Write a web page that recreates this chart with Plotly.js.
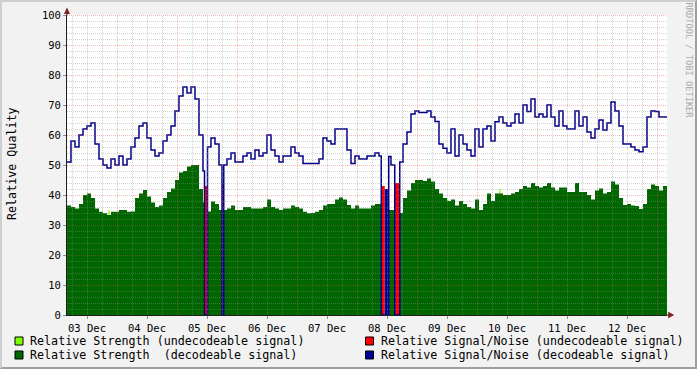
<!DOCTYPE html>
<html><head><meta charset="utf-8">
<script src="https://cdn.plot.ly/plotly-3.0.1.min.js"></script>
<style>
html,body{margin:0;padding:0;background:#f2f2f2;}
#wrap{position:relative;width:697px;height:369px;overflow:hidden;}
#chart{width:697px;height:369px;}
#frame{position:absolute;left:0;top:0;width:697px;height:369px;box-sizing:border-box;border-top:2px solid #cfcfcf;border-left:2px solid #cfcfcf;border-right:2px solid #9e9e9e;border-bottom:2px solid #9e9e9e;pointer-events:none;}
</style></head>
<body><div id="wrap"><div id="chart"></div><div id="frame"></div></div>
<script>
// ---- time base: hours since 03 Dec 04:00 ----
const SPAN_HOURS = 240;
const STEP_HOURS = 1.6;

// Relative Signal/Noise (decodeable), one value per step
const signalNoise = [
 51,58,56,60,62,63,64,57,52,50,
 49,52,50,53,50,52,56,59,63,64,
 59,55,53,54,58,60,63,68,73,76,
 74,76,72,60,48,56,59,57,50,50,
 52,54,51,51,53,54,52,55,53,54,
 60,55,53,51,53,53,56,54,53,50.5,
 50.5,50.5,50.5,52,59,58,57,62,62,62,
 55,50.5,53,52,52,53,53,54,53,53,
 52.8,50,50,51,57,61,67,68,67.5,67.5,
 68,66,64.5,57,55.6,54,62,53,60,57,
 55,53,62,56,62,63,58,64.4,66,64,
 63,64,67,64,70,67.8,72,66,67,66,
 70,66,63,68,63,62,62,68,63,66,
 61,59,62,65,61.7,64,71,68,63,57,
 57,56,55,54.4,56,66,68,67.8,66,66
];

// Relative Strength (decodeable), one value per step
const strength = [
 36.5,36,35.5,37,40,40.5,39,35.5,34.4,33.9,
 33.3,34.4,34.4,35,35,34.4,34.5,39,40.5,41.7,
 39.5,37.5,36,36.5,39,41,42.2,45,47.5,48,
 49.5,50,50,42,37.5,34.5,37.8,37,35,35,
 35.5,36.5,35,35,36,36,35.5,35.5,35.5,36,
 38.5,36,35.5,35,35.5,35.5,36.5,36,35.5,34.4,
 33.9,34,34.4,35,36.5,37,37,38.5,39.2,38.5,
 36.7,35.5,36.5,35.5,35.5,35.5,36.5,37,37,37,
 35,35,34,34,39,41.5,44,45,45,44.7,
 45.5,44.5,42,40.5,39,38,38.5,36.5,38,37,
 36,35.5,38.5,35,37,40.5,38,40.5,40.5,40,
 40,40.5,41,42,43,42.5,44,43,42.5,43,
 44,42.5,41.5,42.5,42.5,41,41,44,41,41,
 40,38.5,41.5,42.2,40.5,41,44.5,43.5,39,36.7,
 37,36.5,36.3,35.3,37,42,43.5,43,41.5,43
];

// periods without a decodeable signal (hours)
const gapStart = [55.0, 62.0, 125.7, 131.1];
const gapEnd   = [56.2, 62.7, 128.7, 133.1];

// Relative Signal/Noise (undecodeable)
const undecSNStart = [55.0, 62.0, 125.7, 131.1];
const undecSNEnd   = [56.2, 62.7, 127.1, 133.1];
const undecSNValue = [43, 44, 43, 44];

// Relative Signal/Noise (decodeable) bar inside the 08 Dec gap
const decSNBarStart = [127.1];
const decSNBarEnd   = [128.5];
const decSNBarValue = [42];

// Relative Strength (undecodeable)
const undecStrengthHour  = [16.8, 152.4, 173.2];
const undecStrengthValue = [35, 38.5, 42];

// x tick labels (centred at noon)
const dayLabels = ['03 Dec','04 Dec','05 Dec','06 Dec','07 Dec','08 Dec','09 Dec','10 Dec','11 Dec','12 Dec'];
const firstNoonHour = 8;

const legendLabels = [
  'Relative Strength (undecodeable signal)',
  'Relative Signal/Noise (undecodeable signal)',
  'Relative Strength \u00a0(decodeable signal)',
  'Relative Signal/Noise (decodeable signal)'
];

// ---------------------------------------------
const T0 = Date.UTC(2012, 11, 3, 4, 0, 0);
const H = 3600000;
const toMs = h => T0 + h * H;

function stepTrace(vals, gS, gE) {
  const xs = [], ys = [];
  const push = (h, v) => { xs.push(toMs(h)); ys.push(v); };
  for (let i = 0; i < vals.length; i++) {
    const a = i * STEP_HOURS, b = a + STEP_HOURS;
    let cur = a;
    for (let k = 0; k < gS.length; k++) {
      if (gE[k] > a && gS[k] < b) {
        if (gS[k] > cur) push(cur, vals[i]);
        push(Math.max(gS[k], a), 0);
        cur = Math.min(gE[k], b);
      }
    }
    if (cur < b - 1e-9) push(cur, vals[i]);
  }
  push(SPAN_HOURS, vals[vals.length - 1]);
  return { xs, ys };
}

const sn = stepTrace(signalNoise, gapStart, gapEnd);
const st = stepTrace(strength, gapStart, gapEnd);

const GREEN = '#006600', LGREEN = '#80ff00', RED = '#ff0000', BLUE = '#000099';

const traces = [
  { type: 'bar', x: undecStrengthHour.map(toMs), y: undecStrengthValue,
    width: undecStrengthHour.map(() => 0.5 * H), marker: { color: LGREEN, line: { width: 0 } },
    hoverinfo: 'skip', name: legendLabels[0] },
  { type: 'bar', x: undecSNStart.map((s, i) => toMs((s + undecSNEnd[i]) / 2)), y: undecSNValue,
    width: undecSNStart.map((s, i) => (undecSNEnd[i] - s) * H), marker: { color: RED, line: { width: 0 } },
    hoverinfo: 'skip', name: legendLabels[1] },
  { type: 'bar', x: decSNBarStart.map((s, i) => toMs((s + decSNBarEnd[i]) / 2)), y: decSNBarValue,
    width: decSNBarStart.map((s, i) => (decSNBarEnd[i] - s) * H), marker: { color: BLUE, line: { width: 0 } },
    hoverinfo: 'skip', name: legendLabels[3] },
  { type: 'scatter', mode: 'lines', x: st.xs, y: st.ys, line: { shape: 'hv', width: 0, color: GREEN },
    fill: 'tozeroy', fillcolor: GREEN, hoverinfo: 'skip', name: legendLabels[2] },
  { type: 'scatter', mode: 'lines', x: sn.xs, y: sn.ys, line: { shape: 'hv', width: 1.5, color: '#000088' },
    hoverinfo: 'skip', name: legendLabels[3] }
];

// grid (drawn above the data like the original), offset half a pixel for crisp lines
const shapes = [];
const MINOR = 'rgba(143,143,143,0.4)', MAJOR = 'rgba(222,79,79,0.4)';
const HALFPX_H = 0.2, HALFPX_V = 1 / 6;
for (let h = 2; h < SPAN_HOURS; h += 6) {
  const major = ((h - 20) % 24 + 24) % 24 === 0;
  shapes.push({ type: 'line', xref: 'x', yref: 'paper', x0: toMs(h + HALFPX_H), x1: toMs(h + HALFPX_H), y0: 0, y1: 1,
    line: { color: major ? MAJOR : MINOR, width: 1, dash: '1px,1px' }, layer: 'above' });
}
for (let v = 2; v <= 100; v += 2) {
  const major = v % 10 === 0;
  const yv = v - HALFPX_V;
  shapes.push({ type: 'line', xref: 'paper', yref: 'y', x0: 0, x1: 1, y0: yv, y1: yv,
    line: { color: major ? MAJOR : MINOR, width: 1, dash: '1px,1px' }, layer: 'above' });
}
// axis arrows
const ARROW = '#801f1f';
shapes.push({ type: 'line', xref: 'paper', yref: 'paper', x0: 0, x1: 0, y0: 1, y1: 1.02, line: { color: '#1f1f1f', width: 1 } });
shapes.push({ type: 'path', xref: 'paper', yref: 'paper', path: 'M -0.005 1.003 L 0.005 1.003 L 0 1.025 Z', fillcolor: ARROW, line: { width: 0 } });
shapes.push({ type: 'line', xref: 'paper', yref: 'paper', x0: 1, x1: 1.008, y0: 0, y1: 0, line: { color: '#1f1f1f', width: 1 } });
shapes.push({ type: 'path', xref: 'paper', yref: 'paper', path: 'M 1.002 -0.011 L 1.002 0.011 L 1.012 0 Z', fillcolor: ARROW, line: { width: 0 } });

// legend squares and labels
const px = x => (x - 67) / 600, py = y => (315 - y) / 300;
const legendColors = [LGREEN, RED, GREEN, BLUE];
const legCols = [15, 365.5], legRows = [337, 351];
const annotations = [];
const LEGEND_FONT = 11.7;
legendLabels.forEach((lab, i) => {
  const c = i % 2, r = Math.floor(i / 2);
  shapes.push({ type: 'rect', xref: 'paper', yref: 'paper', x0: px(legCols[c]), x1: px(legCols[c] + 8),
    y0: py(legRows[r]), y1: py(legRows[r] + 8), fillcolor: legendColors[i], line: { color: '#000', width: 1 } });
  annotations.push({ xref: 'paper', yref: 'paper', x: px(legCols[c] + 15), y: py(legRows[r] + 4),
    xanchor: 'left', yanchor: 'middle', text: lab, showarrow: false, borderpad: 0, borderwidth: 0,
    font: { family: 'DejaVu Sans Mono', size: LEGEND_FONT, color: '#000' } });
});
annotations.push({ xref: 'paper', yref: 'paper', x: px(12), y: py(164), text: 'Relative Quality', textangle: -90,
  showarrow: false, xanchor: 'center', yanchor: 'middle', font: { family: 'DejaVu Sans Mono', size: LEGEND_FONT, color: '#000' } });
annotations.push({ xref: 'paper', yref: 'paper', x: px(688.5), y: py(60), text: 'RRDTOOL / TOBI OETIKER', textangle: 90,
  showarrow: false, xanchor: 'center', yanchor: 'middle', font: { family: 'DejaVu Sans Mono', size: 8.7, color: '#aaaaaa' } });

const layout = {
  width: 697, height: 369,
  margin: { l: 67, r: 30, t: 15, b: 54, pad: 0 },
  paper_bgcolor: '#f2f2f2', plot_bgcolor: '#ffffff',
  showlegend: false, barmode: 'overlay',
  font: { family: 'DejaVu Sans Mono', size: 10.5, color: '#000' },
  xaxis: {
    type: 'date', range: [toMs(0), toMs(SPAN_HOURS)],
    tickmode: 'array', tickvals: dayLabels.map((d, i) => toMs(firstNoonHour + 24 * i)), ticktext: dayLabels,
    ticks: 'outside', ticklen: 3, tickcolor: '#8f8f8f', showgrid: false, zeroline: false,
    showline: true, linecolor: '#1f1f1f', linewidth: 1, fixedrange: true,
    tickfont: { family: 'DejaVu Sans Mono', size: 10.5, color: '#000' }
  },
  yaxis: {
    range: [0, 100], tick0: 0, dtick: 10, ticks: 'outside', ticklen: 3, tickcolor: '#8f8f8f',
    showgrid: false, zeroline: false, showline: true, linecolor: '#1f1f1f', linewidth: 1, fixedrange: true,
    tickfont: { family: 'DejaVu Sans Mono', size: 10.5, color: '#000' }
  },
  shapes, annotations
};

Plotly.newPlot('chart', traces, layout, { staticPlot: true, displayModeBar: false });
</script>
</body></html>
